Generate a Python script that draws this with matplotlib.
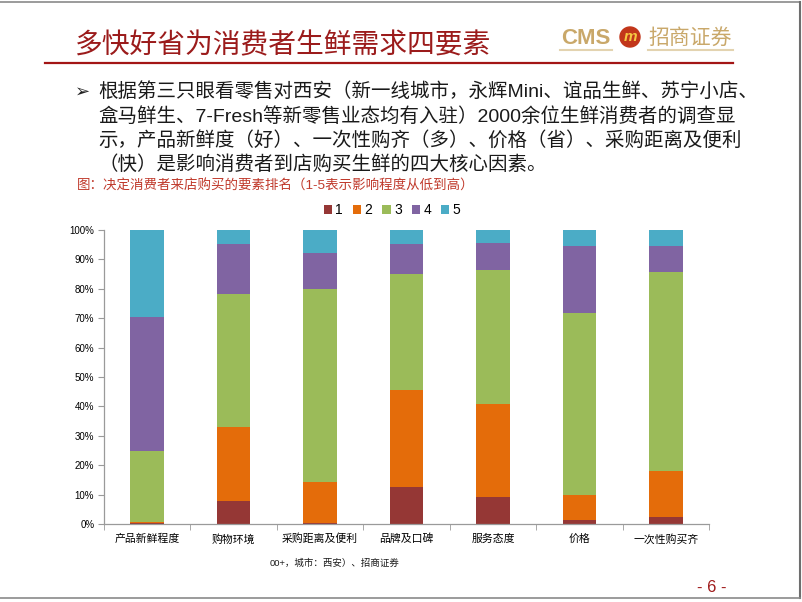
import matplotlib
matplotlib.use("Agg")
import matplotlib.pyplot as plt
from matplotlib.patches import Circle, Rectangle
import numpy as np

plt.rcParams['font.family'] = ['Liberation Sans', 'Noto Sans CJK SC', 'DejaVu Sans']

categories = ['产品新鲜程度', '购物环境', '采购距离及便利', '品牌及口碑', '服务态度', '价格', '一次性购买齐']
series_names = ['1', '2', '3', '4', '5']
rank1 = [0.5, 7.9, 0.2, 12.5, 9.3, 1.5, 2.3]
rank2 = [0.3, 25.1, 14.1, 33.0, 31.6, 8.5, 15.6]
rank3 = [23.9, 45.3, 65.5, 39.7, 45.6, 61.7, 67.9]
rank4 = [45.7, 16.8, 12.4, 10.2, 9.0, 22.8, 8.7]
rank5 = [29.6, 4.9, 7.8, 4.6, 4.5, 5.5, 5.5]
yticks = [0, 10, 20, 30, 40, 50, 60, 70, 80, 90, 100]
ytick_labels = ['0%', '10%', '20%', '30%', '40%', '50%', '60%', '70%', '80%', '90%', '100%']
colors = ['#953735', '#E46C0A', '#9BBB59', '#8064A2', '#4BACC6']

W, H = 802, 602
fig = plt.figure(figsize=(W / 100, H / 100), dpi=100)

# page overlay in pixel coordinates
pg = fig.add_axes([0, 0, 1, 1])
pg.set_xlim(0, W)
pg.set_ylim(H, 0)
pg.axis('off')

# frame
pg.plot([0, 800], [1.5, 1.5], color='#8a8a8a', lw=1.2)
pg.plot([800, 800], [1.5, 598], color='#6e6e6e', lw=1.5)
pg.plot([0, 800], [598, 598], color='#8a8a8a', lw=1.2)

# title
pg.text(75, 45, '多快好省为消费者生鲜需求四要素', fontsize=20, color='#9B1B1B',
        family=['Noto Sans CJK SC'], va='center', ha='left')
pg.plot([45, 733], [63, 63], color='#A31515', lw=1.6)

# logo
gold = '#C9A86A'
pg.text(586, 38, 'CMS', fontsize=16, fontweight='bold', color=gold, ha='center', va='center')
pg.add_patch(Circle((630, 37), 10, color='#C2361A'))
pg.text(630, 37, 'm', fontsize=11, fontweight='bold', style='italic', color='#F5C842',
        ha='center', va='center')
pg.text(690, 38, '招商证券', fontsize=15, color=gold, family=['Noto Sans CJK SC'],
        ha='center', va='center')
pg.plot([560, 612], [50, 50], color='#E3D3B0', lw=1.5)
pg.plot([648, 733], [50, 50], color='#E3D3B0', lw=1.5)

# bullet text
pg.text(75, 92, '➢', fontsize=13, family=['DejaVu Sans'], ha='left', va='center', color='#222222')
lines = ['根据第三只眼看零售对西安（新一线城市，永辉Mini、谊品生鲜、苏宁小店、',
         '盒马鲜生、7-Fresh等新零售业态均有入驻）2000余位生鲜消费者的调查显',
         '示，产品新鲜度（好）、一次性购齐（多）、价格（省）、采购距离及便利',
         '（快）是影响消费者到店购买生鲜的四大核心因素。']
for i, ln in enumerate(lines):
    pg.text(98, 92 + i * 24.3, ln, fontsize=14, ha='left', va='center', color='#1a1a1a')

pg.text(77, 186, '图：决定消费者来店购买的要素排名（1-5表示影响程度从低到高）', fontsize=9.7,
        color='#C0392B', ha='left', va='center')

pg.text(270, 563, '00+，城市：西安）、招商证券', fontsize=6.8, ha='left', va='center', color='#1a1a1a')
pg.text(712, 587, '- 6 -', fontsize=12, ha='center', va='center', color='#A01C1C')

# chart
left, right, bottom, top = 104, 709, 524, 230
ax = fig.add_axes([left / W, (H - bottom) / H, (right - left) / W, (bottom - top) / H])
x = np.arange(len(categories))
data = [rank1, rank2, rank3, rank4, rank5]
base = np.zeros(len(categories))
handles = []
for name, vals, c in zip(series_names, data, colors):
    b = ax.bar(x, vals, width=0.39, bottom=base, color=c, label=name, edgecolor='none')
    handles.append(b)
    base = base + np.array(vals)

ax.set_xlim(-0.5, len(categories) - 0.5)
ax.set_ylim(0, 100)
ax.set_yticks(yticks)
ax.set_yticklabels(ytick_labels, fontsize=7)
ax.set_xticks(x)
ax.set_xticklabels(categories, fontsize=7.8, family=['Noto Sans CJK SC'])
ax.set_xticks(np.arange(-0.5, len(categories)), minor=True)
ax.tick_params(axis='x', which='major', length=0, pad=7)
ax.tick_params(axis='x', which='minor', length=4, color='#9a9a9a', direction='out')
ax.tick_params(axis='y', length=4, color='#9a9a9a', pad=3)
for s in ['top', 'right']:
    ax.spines[s].set_visible(False)
for s in ['left', 'bottom']:
    ax.spines[s].set_color('#9a9a9a')
    ax.spines[s].set_linewidth(0.9)

fig.legend(handles=handles, labels=series_names, loc='center',
           bbox_to_anchor=(392 / W, (H - 210) / H), ncol=5, frameon=False,
           fontsize=10, handlelength=0.6, handleheight=0.6, handletextpad=0.25,
           columnspacing=0.7, borderpad=0)

fig.savefig('out.png', dpi=100)
